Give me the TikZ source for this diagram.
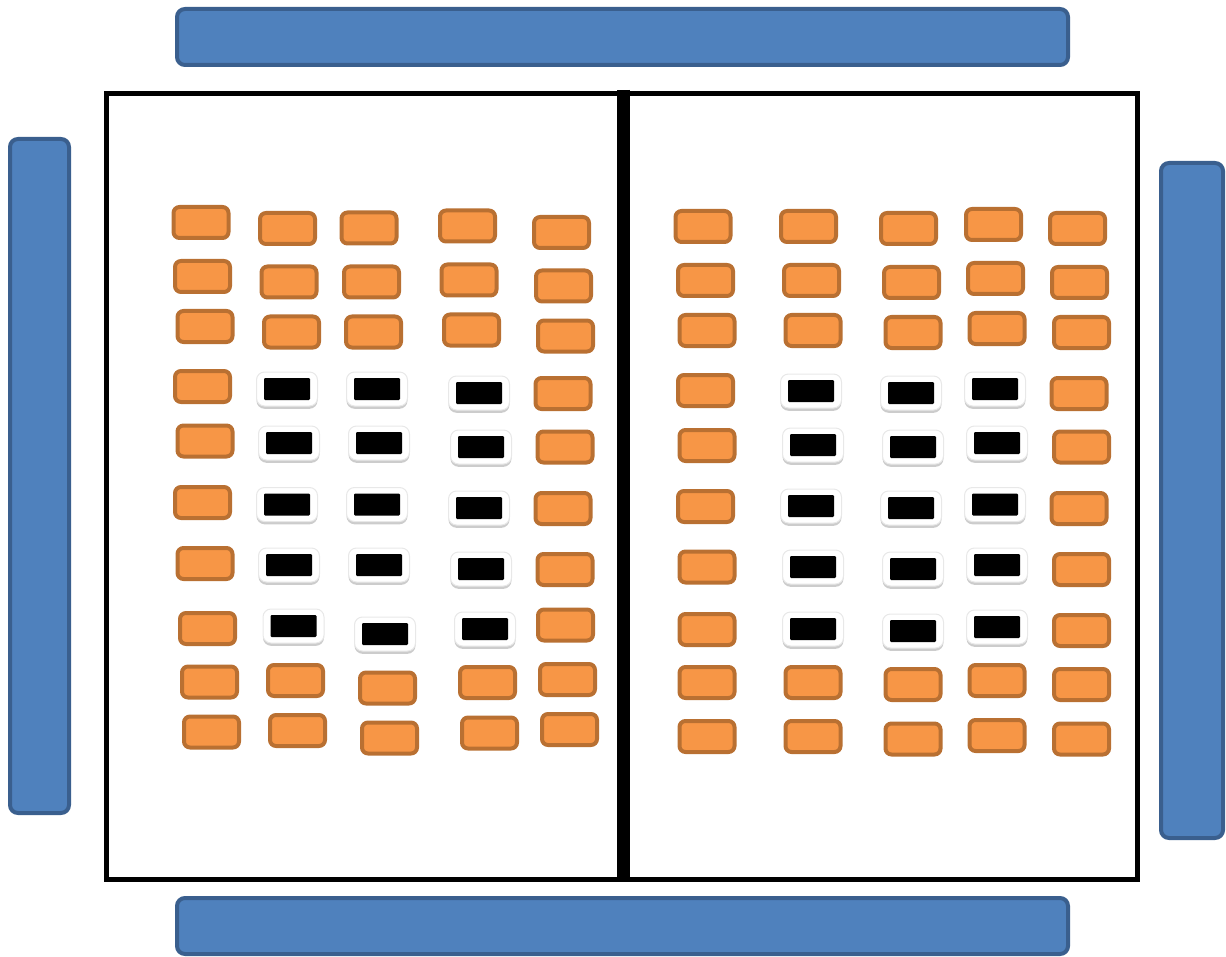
\documentclass[tikz,border=0pt]{standalone}
\usetikzlibrary{shadows}
\definecolor{ofill}{HTML}{F79646}
\definecolor{oline}{HTML}{B97032}
\definecolor{bfill}{HTML}{4F81BD}
\definecolor{bline}{HTML}{3A5F8E}
\tikzset{
  obox/.style={draw=oline, fill=ofill, line width=2pt, rounded corners=3pt,
    minimum width=27.5pt, minimum height=15.5pt, inner sep=0pt},
  wbox/.style={fill=white, draw=black!9, line width=0.5pt, rounded corners=4pt,
    minimum width=30.5pt, minimum height=17pt, inner sep=0pt,
    drop shadow={shadow xshift=0pt, shadow yshift=-1.4pt, fill=black, opacity=0.2}},
  kbox/.style={fill=black, rounded corners=0.6pt, minimum width=23pt, minimum height=11pt, inner sep=0pt},
  bar/.style={draw=bline, fill=bfill, line width=2pt, rounded corners=4pt},
  frame/.style={draw=black, line width=2.5pt},
  divider/.style={draw=black, line width=6.5pt}
}
\begin{document}
\begin{tikzpicture}[x=0.5pt, y=-0.5pt]
\useasboundingbox (0,0) rectangle (1226,957);
% blue bars
\draw[bar] (177,9) rectangle (1068,65);
\draw[bar] (177,898) rectangle (1068,954);
\draw[bar] (10,139) rectangle (69,813);
\draw[bar] (1161,163) rectangle (1223,838);
% frame
\draw[frame] (106.5,94) rectangle (1137,879);
\draw[divider] (623,90) -- (623,882);
% left orange boxes
\foreach [count=\i] \x/\y in {201/222.5, 287.5/228.5, 369/228, 467.5/226, 561.5/232.5,
  202.5/276.5, 289/282, 371.5/282, 469/280, 563.5/286,
  205/326.5, 291.5/332, 373.5/332, 471.5/330, 565.5/336,
  202.5/386.5, 563/393.5, 205/441, 565/447, 202.5/502.5, 563/508.5,
  205/563.5, 565/569.5, 207.5/628.5, 565.5/625,
  209.5/682, 295.5/680.5, 387.5/688, 487.5/682.5, 567.5/679.5,
  211.5/732, 297.5/730.5, 389.5/738, 489.5/733, 569.5/729.5}
  \node[obox] (LO\i) at (\x,\y) {};
% right orange boxes
\foreach [count=\i] \x/\y in {703/226.5, 808.5/226.5, 908.5/228.5, 993.5/224.5, 1077.5/228.5,
  705.5/280.5, 811.5/280.5, 911.5/282.5, 995.5/278.5, 1079.5/282.5,
  707/330.5, 813/330.5, 913/332.5, 997/328.5, 1081.5/332.5,
  705.5/390.5, 1079/393.5, 707/445.5, 1081.5/447, 705.5/506.5, 1079/508.5,
  707/567, 1081.5/569.5, 707/629.5, 1081.5/630.5,
  707/682.5, 813/682.5, 913/684.5, 997/680.5, 1081.5/684.5,
  707/736.5, 813/736.5, 913/739, 997/735.5, 1081.5/739}
  \node[obox] (RO\i) at (\x,\y) {};
% left black boxes
\foreach [count=\i] \x/\y in {287/389, 377/389, 479/393,
  289/443, 379/443, 481/447,
  287/504.5, 377/504.5, 479/508,
  289/565, 379/565, 481/569,
  293.5/626, 385/634, 485/629}
  {\node[wbox] (LW\i) at (\x,\y) {};
   \node[kbox] (LK\i) at (LW\i) {};}
% right black boxes
\foreach [count=\i] \x/\y in {811/391, 911/393, 995/389,
  813/445, 913/447, 997/443,
  811/506, 911/508, 995/504.5,
  813/567, 913/569, 997/565,
  813/629, 913/631, 997/627}
  {\node[wbox] (RW\i) at (\x,\y) {};
   \node[kbox] (RK\i) at (RW\i) {};}
\end{tikzpicture}
\end{document}
